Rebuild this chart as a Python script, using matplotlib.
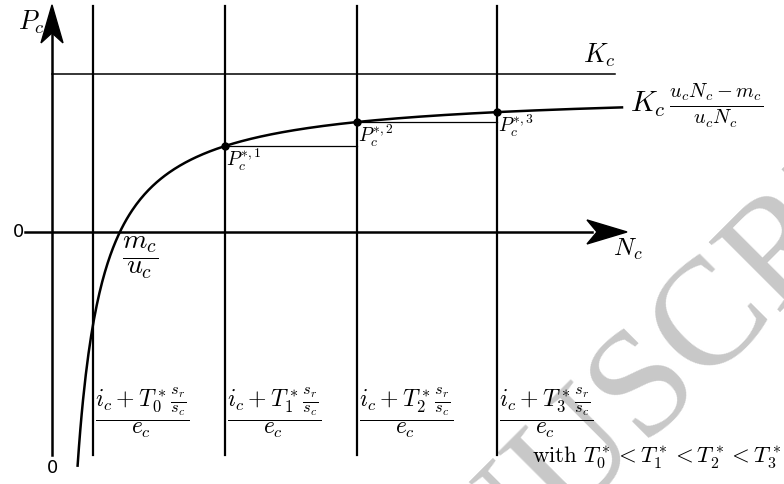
import numpy as np
import matplotlib
matplotlib.use("Agg")
import matplotlib.pyplot as plt
from matplotlib.patches import Polygon

plt.rcParams['mathtext.fontset'] = 'cm'

# model values (diagram units: N_c along x, P_c along y, K_c = 1)
K = 1.0
A = 0.895           # level the drawn curve tends to
m_over_u = 0.679    # root of the curve, m_c / u_c
N_T = [0.41, 1.73, 3.05, 4.45]   # thresholds for T0*..T3*
T_labels = ['0', '1', '2', '3']
N_end = 5.70

def curve(n):
    return A * (1 - m_over_u / np.asarray(n))

fig = plt.figure(figsize=(7.84, 4.84), dpi=100)
ax = fig.add_axes([0, 0, 1, 1])
ax.set_xlim(-0.52, 7.32)
ax.set_ylim(-1.595, 1.468)
ax.axis('off')

# pixel -> data scale helpers for the arrow heads
sx = 7.84 / 784
sy = 3.063 / 484

# watermark (behind everything)
ax.text(0.812, 0.172, 'MANUSCRIPT', transform=fig.transFigure, fontsize=110,
        family='Liberation Serif', color='#c8c8c8', rotation=45, ha='center',
        va='center', rotation_mode='anchor', zorder=0)

# vertical threshold lines
for n in N_T:
    ax.plot([n, n], [-1.411, 1.43], color='black', lw=1.6)

# axes
ax.plot([0, 0], [-1.411, 1.40], color='black', lw=1.8)
ax.plot([-0.27, 5.40], [0, 0], color='black', lw=1.8)
tip = 1.437
ax.add_patch(Polygon([[0, tip], [-11 * sx, tip - 38 * sy], [0, tip - 28 * sy],
                      [11 * sx, tip - 38 * sy]], closed=True, color='black', zorder=5))
tipx = 5.75
ax.add_patch(Polygon([[tipx, 0], [tipx - 40 * sx, 12 * sy], [tipx - 30 * sx, 0],
                      [tipx - 40 * sx, -12 * sy]], closed=True, color='black', zorder=5))

# K_c level
ax.plot([0, 5.63], [K, K], color='black', lw=1.1)
ax.text(5.63, K + 0.03, r'$K_c$', ha='right', va='bottom', fontsize=19)

# curve
nn = np.linspace(0.256, N_end, 400)
ax.plot(nn, curve(nn), color='black', lw=1.8)
ax.text(5.78, 0.80, r'$K_c\,\frac{u_cN_c - m_c}{u_cN_c}$', ha='left', va='center', fontsize=21)

# equilibrium points
P_eq = curve(N_T[1:])
ax.plot(N_T[1:], P_eq, 'o', color='black', ms=5)
for i in range(len(P_eq) - 1):
    ax.plot([N_T[i + 1], N_T[i + 2]], [P_eq[i], P_eq[i]], color='black', lw=0.9)
for i, (n, p) in enumerate(zip(N_T[1:], P_eq)):
    ax.text(n + 0.005, p - 0.005, r'$P_c^{*,%d}$' % (i + 1), ha='left', va='top', fontsize=14)

# axis labels
ax.text(-0.07, 1.33, r'$P_c$', ha='right', va='center', fontsize=19)
ax.text(5.61, -0.03, r'$N_c$', ha='left', va='top', fontsize=18)
ax.text(m_over_u + 0.02, -0.02, r'$\dfrac{m_c}{u_c}$', ha='left', va='top', fontsize=20)
ax.text(-0.28, 0, '0', ha='right', va='center', fontsize=13)
ax.text(0, -1.435, '0', ha='center', va='top', fontsize=13)

# threshold labels
for n, t in zip(N_T, T_labels):
    ax.text(n + 0.02, -1.14, r'$\dfrac{i_c + T_%s^*\frac{s_r}{s_c}}{e_c}$' % t,
            ha='left', va='center', fontsize=17)
ax.text(7.29, -1.43, r'$\mathrm{with}\ T_0^* < T_1^* < T_2^* < T_3^*$',
        ha='right', va='center', fontsize=16.5)

fig.savefig('out.png', dpi=100)
